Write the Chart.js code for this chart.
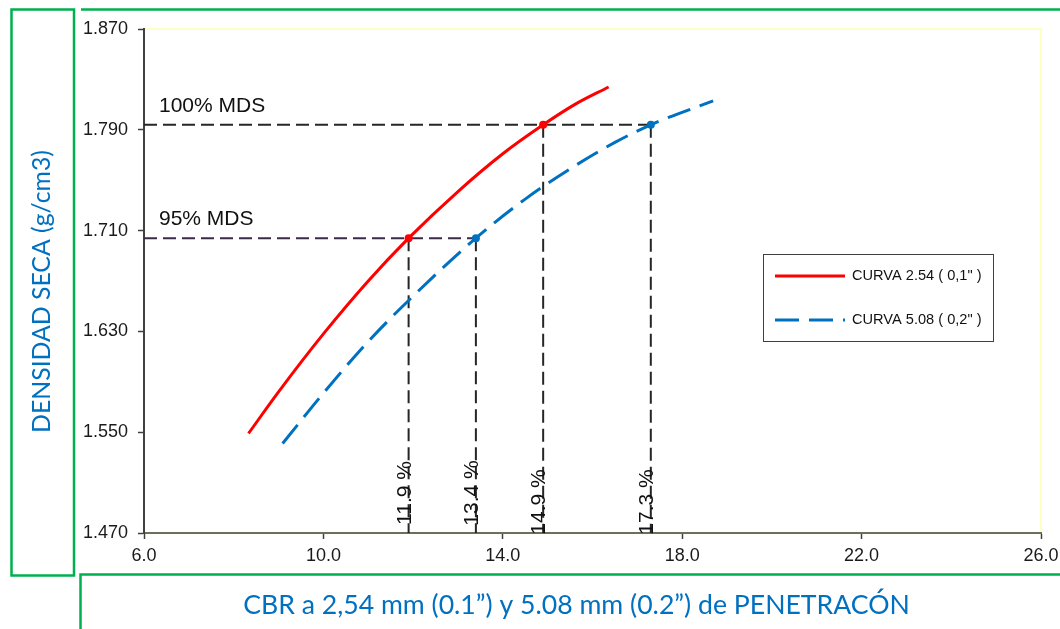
<!DOCTYPE html>
<html><head><meta charset="utf-8">
<script src="https://cdn.jsdelivr.net/npm/chart.js@4.4.1/dist/chart.umd.min.js"></script>
<style>html,body{margin:0;padding:0;background:#fff;overflow:hidden}#wrap{width:1060px;height:629px}</style>
</head><body><div id="wrap"><canvas id="c" width="1060" height="629"></canvas></div>
<script>
// ---- data ----
const xTickValues = [6, 10, 14, 18, 22, 26];
const yTickValues = [1.470, 1.550, 1.630, 1.710, 1.790, 1.870];
const seriesNames = ['CURVA 2.54 ( 0,1" )', 'CURVA 5.08 ( 0,2" )'];
const curve254X = [8.33, 9.0, 10.0, 11.0, 11.9, 13.0, 14.0, 14.9, 15.6, 16.36];
const curve254Y = [1.549, 1.582, 1.628, 1.670, 1.704, 1.741, 1.771, 1.794, 1.810, 1.824];
const curve508X = [9.09, 10.0, 11.0, 12.0, 13.4, 14.5, 15.5, 16.5, 17.3, 18.69];
const curve508Y = [1.541, 1.581, 1.622, 1.658, 1.704, 1.735, 1.759, 1.780, 1.794, 1.813];
const cbrValues = [11.9, 13.4, 14.9, 17.3];
const cbrDensity = [1.704, 1.704, 1.794, 1.794];
const cbrSeries = [0, 1, 0, 1];
const cbrLabels = ['11.9 %', '13.4 %', '14.9 %', '17.3 %'];
const mdsDensity = [1.794, 1.704];
const mdsEndCbr = [17.3, 13.4];
const mdsLabels = ['100% MDS', '95% MDS'];
const xTitle = 'CBR a 2,54 mm (0.1\u201D) y 5.08 mm (0.2\u201D) de PENETRAC\u00D3N';
const yTitle = 'DENSIDAD SECA (g/cm3)';

// ---- styles ----
const RED = '#FF0000', BLUE = '#0070C0', GREEN = '#00B050';
const seriesColors = [RED, BLUE];
const seriesDash = [[], [24, 10]];
const TICK_FONT = {family: "'Liberation Sans', Arial, sans-serif", size: 18};
const AX_MIN = 1.470;

const zip = (xs, ys) => xs.map((x, i) => ({x, y: ys[i]}));
const datasets = [];
[[curve254X, curve254Y], [curve508X, curve508Y]].forEach(([xs, ys], s) => {
  datasets.push({label: seriesNames[s], data: zip(xs, ys), showLine: true, borderColor: seriesColors[s],
    borderWidth: 3, borderDash: seriesDash[s], pointRadius: 0, cubicInterpolationMode: 'monotone', order: 1});
});
seriesColors.forEach((c, s) => {
  const pts = cbrValues.map((x, i) => ({x, y: cbrDensity[i], s: cbrSeries[i]})).filter(p => p.s === s).map(p => ({x: p.x, y: p.y}));
  datasets.push({label: 'pts' + s, data: pts, showLine: false, pointRadius: 4, pointBackgroundColor: c,
    pointBorderColor: c, pointBorderWidth: 0, order: 0});
});
mdsDensity.forEach((d, i) => {
  datasets.push({label: 'mds' + i, data: [{x: xTickValues[0], y: d}, {x: mdsEndCbr[i], y: d}], showLine: true,
    borderColor: i === 0 ? '#262626' : '#3B2B48', borderWidth: 2, borderDash: [13, 6], pointRadius: 0, order: 5});
});
cbrValues.forEach((x, i) => {
  datasets.push({label: 'cbr' + i, data: [{x, y: cbrDensity[i]}, {x, y: AX_MIN}], showLine: true,
    borderColor: '#262626', borderWidth: 2, borderDash: [13, 6], pointRadius: 0, order: 5});
});

function fitSize(ctx, text, family, target) {
  ctx.font = '100px ' + family;
  return 100 * target / ctx.measureText(text).width;
}

const decor = {
  id: 'decor',
  beforeDraw(chart) {
    const {ctx, chartArea: a} = chart;
    ctx.save();
    ctx.fillStyle = '#fff'; ctx.fillRect(0, 0, chart.width, chart.height);
    ctx.strokeStyle = GREEN; ctx.lineWidth = 2.5;
    ctx.strokeRect(11.5, 9.5, 62.5, 566);
    ctx.beginPath(); ctx.moveTo(81, 9.5); ctx.lineTo(chart.width + 5, 9.5); ctx.stroke();
    ctx.beginPath(); ctx.moveTo(80.5, chart.height + 5); ctx.lineTo(80.5, 574.5); ctx.lineTo(chart.width + 5, 574.5); ctx.stroke();
    ctx.strokeStyle = '#FFFFC4'; ctx.lineWidth = 2;
    ctx.beginPath(); ctx.moveTo(a.left, a.top); ctx.lineTo(a.right, a.top); ctx.lineTo(a.right, a.bottom); ctx.stroke();
    ctx.restore();
  },
  afterDraw(chart) {
    const {ctx} = chart;
    const xs = chart.scales.x, ys = chart.scales.y;
    ctx.save();
    // axis titles
    const fam = "Lato, 'Open Sans', sans-serif";
    ctx.fillStyle = BLUE; ctx.textAlign = 'center'; ctx.textBaseline = 'middle';
    let sz = fitSize(ctx, xTitle, fam, 667);
    ctx.font = sz.toFixed(2) + 'px ' + fam;
    ctx.fillText(xTitle, 576.5, 605);
    sz = fitSize(ctx, yTitle, fam, 283);
    ctx.font = sz.toFixed(2) + 'px ' + fam;
    ctx.save(); ctx.translate(42, 291.5); ctx.rotate(-Math.PI / 2); ctx.fillText(yTitle, 0, 0); ctx.restore();
    // MDS labels
    ctx.fillStyle = '#111'; ctx.textAlign = 'left';
    ctx.font = "21px 'Liberation Sans', Arial, sans-serif";
    mdsDensity.forEach((d, i) => ctx.fillText(mdsLabels[i], 159, ys.getPixelForValue(d) - 19));
    // CBR labels (rotated)
    const lift = [40, 40, 31, 31];
    ctx.textAlign = 'center'; ctx.textBaseline = 'alphabetic';
    cbrValues.forEach((v, i) => {
      ctx.save();
      ctx.translate(xs.getPixelForValue(v) + 2, ys.getPixelForValue(AX_MIN) - lift[i]);
      ctx.rotate(-Math.PI / 2);
      ctx.fillText(cbrLabels[i], 0, 0);
      ctx.restore();
    });
    // legend
    ctx.fillStyle = '#fff'; ctx.strokeStyle = '#404040'; ctx.lineWidth = 1;
    ctx.fillRect(763, 254, 230, 87); ctx.strokeRect(763.5, 254.5, 230, 87);
    ctx.font = "14.6px 'Liberation Sans', Arial, sans-serif"; ctx.textAlign = 'left'; ctx.textBaseline = 'middle';
    [276, 320].forEach((yy, s) => {
      ctx.strokeStyle = seriesColors[s]; ctx.lineWidth = 3; ctx.setLineDash(seriesDash[s]);
      ctx.beginPath(); ctx.moveTo(775, yy); ctx.lineTo(845, yy); ctx.stroke();
      ctx.setLineDash([]);
      ctx.fillStyle = '#111'; ctx.fillText(seriesNames[s], 852, yy);
    });
    ctx.restore();
  }
};

new Chart(document.getElementById('c'), {
  type: 'scatter',
  data: {datasets},
  options: {
    responsive: false, animation: false, events: [],
    layout: {padding: {top: 29, left: 0, right: 19, bottom: 0}},
    plugins: {legend: {display: false}, tooltip: {enabled: false}},
    scales: {
      x: {type: 'linear', min: xTickValues[0], max: xTickValues[xTickValues.length - 1],
        afterBuildTicks: s => { s.ticks = xTickValues.map(v => ({value: v})); },
        afterFit: s => { s.height = 96; s.paddingRight = 0; s.paddingLeft = 0; },
        ticks: {callback: v => Number(v).toFixed(1), font: TICK_FONT, color: '#1a1a1a', padding: 6, maxRotation: 0},
        grid: {drawOnChartArea: false, drawTicks: true, tickLength: 6, tickColor: '#404040', tickWidth: 1.5},
        border: {color: '#6E6E5A', width: 2}},
      y: {type: 'linear', min: yTickValues[0], max: yTickValues[yTickValues.length - 1],
        afterBuildTicks: s => { s.ticks = yTickValues.map(v => ({value: v})); },
        afterFit: s => { s.width = 144; s.paddingTop = 0; s.paddingBottom = 0; },
        ticks: {callback: v => Number(v).toFixed(3), font: TICK_FONT, color: '#1a1a1a', padding: 10},
        grid: {drawOnChartArea: false, drawTicks: true, tickLength: 6, tickColor: '#404040', tickWidth: 1.5},
        border: {color: '#404040', width: 2}}
    }
  },
  plugins: [decor]
});
</script></body></html>
